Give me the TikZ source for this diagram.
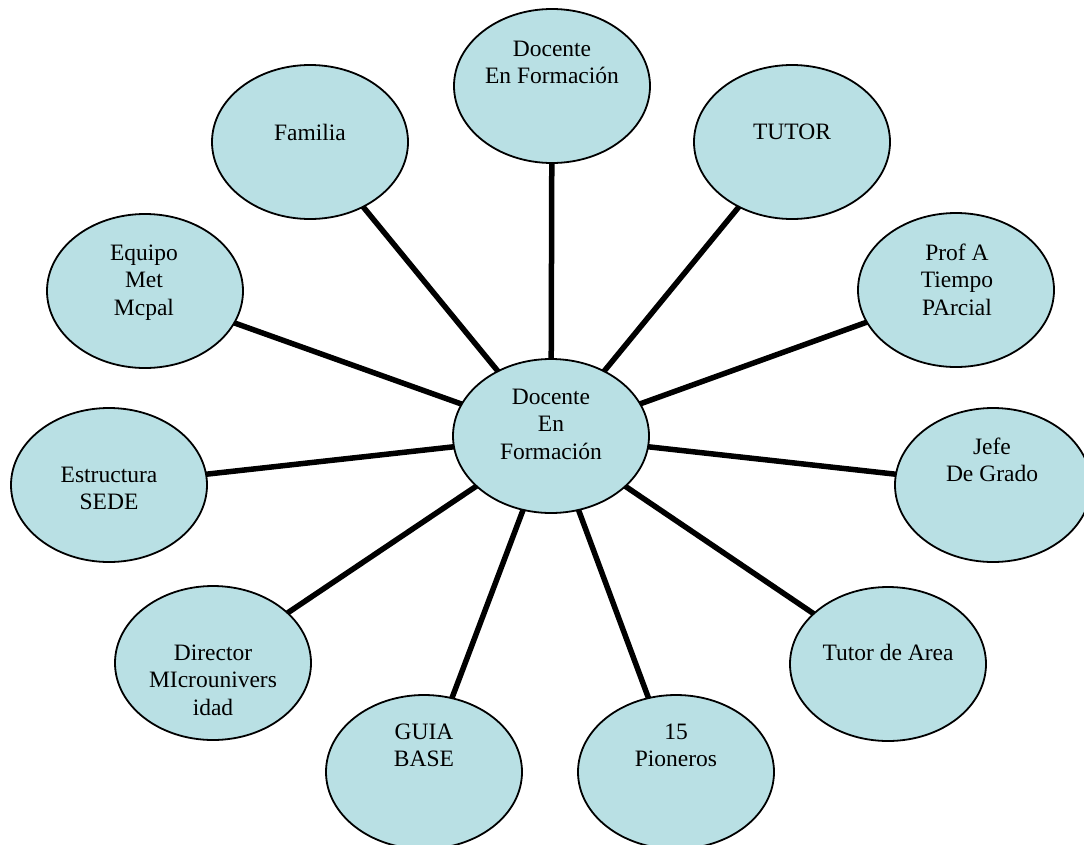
\documentclass[tikz,border=0pt]{standalone}
\usepackage{fontspec}
\setmainfont{Liberation Serif}
\usetikzlibrary{shapes.geometric,backgrounds}
\definecolor{bubblefill}{RGB}{185,224,228}
\newcommand\stacklines[1]{\vtop{\baselineskip=27.7pt\lineskiplimit=-100pt\halign{\hfil##\hfil\cr#1\crcr}}}
\begin{document}
\begin{tikzpicture}[x=1pt,y=-1pt,
  bubble/.style={ellipse, draw=black, line width=1.8pt, fill=bubblefill,
    minimum width=196pt, minimum height=154pt, inner sep=0pt},
  txt/.style={anchor=base, inner sep=0pt, font=\fontsize{23.5}{27.7}\selectfont},
  link/.style={line width=5.5pt, draw=black}]
\useasboundingbox (0,0) rectangle (1084,844);
\clip (0,0) rectangle (1084,844);

% ellipses
\node[bubble] (ctr)  at (551,436) {};
\node[bubble] (top)  at (552,86)  {};
\node[bubble] (fam)  at (310,142) {};
\node[bubble] (tut)  at (792,142) {};
\node[bubble] (prof) at (956,290) {};
\node[bubble] (jefe) at (993,485) {};
\node[bubble] (equ)  at (145,291) {};
\node[bubble] (est)  at (109,485) {};
\node[bubble] (dir)  at (213,663) {};
\node[bubble] (area) at (888,664) {};
\node[bubble] (guia) at (424,772) {};
\node[bubble] (pio)  at (676,772) {};

% connectors
\begin{pgfonlayer}{background}
\foreach \n in {top,fam,tut,prof,jefe,equ,est,dir,area,guia,pio}
  \draw[link] (ctr.center) -- (\n.center);
\end{pgfonlayer}

% labels
\node[txt] (ctrt)  at (551,404) {\stacklines{Docente\cr En\cr Formación}};
\node[txt] (topt)  at (552,56)  {\stacklines{Docente\cr En Formación}};
\node[txt] (famt)  at (310,140) {Familia};
\node[txt] (tutt)  at (792,139) {TUTOR};
\node[txt] (proft) at (957,260) {\stacklines{Prof A\cr Tiempo\cr PArcial}};
\node[txt] (jefet) at (992,454) {\stacklines{Jefe\cr De Grado}};
\node[txt] (equt)  at (144,260) {\stacklines{Equipo\cr Met\cr Mcpal}};
\node[txt] (estt)  at (109,482) {\stacklines{Estructura\cr SEDE}};
\node[txt] (dirt)  at (213,660) {\stacklines{Director\cr MIcrounivers\cr idad}};
\node[txt] (areat) at (888,660) {Tutor de Area};
\node[txt] (guiat) at (424,739) {\stacklines{GUIA\cr BASE}};
\node[txt] (piot)  at (676,739) {\stacklines{15\cr Pioneros}};
\end{tikzpicture}
\end{document}
